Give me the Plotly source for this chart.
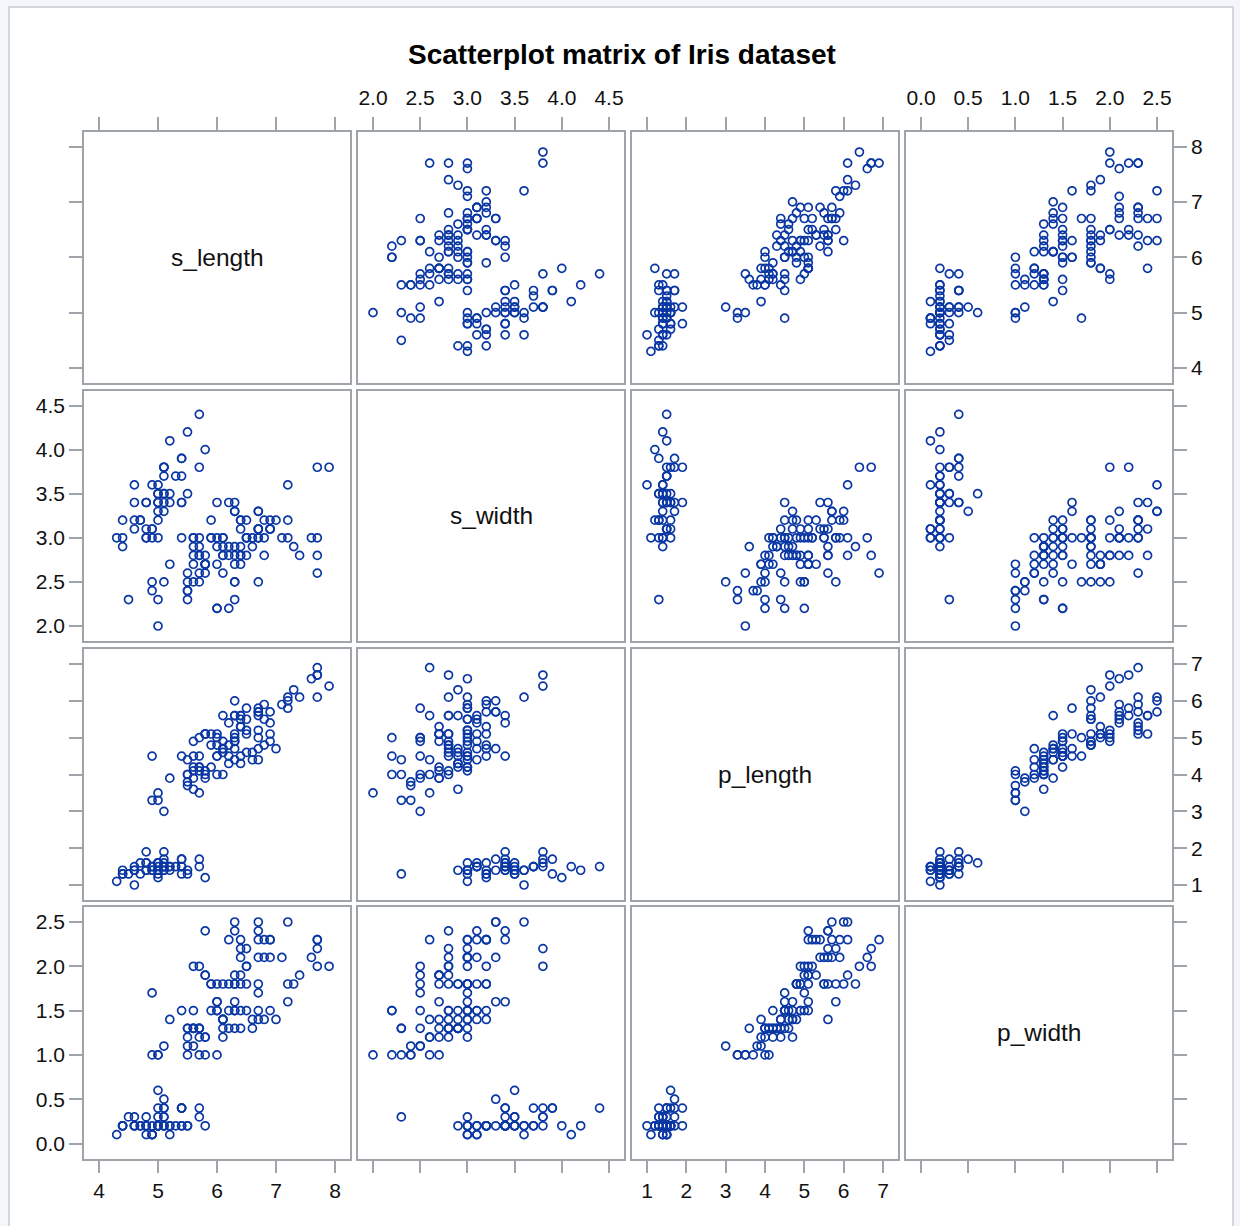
import plotly.graph_objects as go

# Fisher's Iris measurements (cm)
s_length = [5.1,4.9,4.7,4.6,5.0,5.4,4.6,5.0,4.4,4.9,5.4,4.8,4.8,4.3,5.8,5.7,5.4,5.1,5.7,5.1,5.4,5.1,4.6,5.1,4.8,5.0,5.0,5.2,5.2,4.7,4.8,5.4,5.2,5.5,4.9,5.0,5.5,4.9,4.4,5.1,5.0,4.5,4.4,5.0,5.1,4.8,5.1,4.6,5.3,5.0,
            7.0,6.4,6.9,5.5,6.5,5.7,6.3,4.9,6.6,5.2,5.0,5.9,6.0,6.1,5.6,6.7,5.6,5.8,6.2,5.6,5.9,6.1,6.3,6.1,6.4,6.6,6.8,6.7,6.0,5.7,5.5,5.5,5.8,6.0,5.4,6.0,6.7,6.3,5.6,5.5,5.5,6.1,5.8,5.0,5.6,5.7,5.7,6.2,5.1,5.7,
            6.3,5.8,7.1,6.3,6.5,7.6,4.9,7.3,6.7,7.2,6.5,6.4,6.8,5.7,5.8,6.4,6.5,7.7,7.7,6.0,6.9,5.6,7.7,6.3,6.7,7.2,6.2,6.1,6.4,7.2,7.4,7.9,6.4,6.3,6.1,7.7,6.3,6.4,6.0,6.9,6.7,6.9,5.8,6.8,6.7,6.7,6.3,6.5,6.2,5.9]
s_width = [3.5,3.0,3.2,3.1,3.6,3.9,3.4,3.4,2.9,3.1,3.7,3.4,3.0,3.0,4.0,4.4,3.9,3.5,3.8,3.8,3.4,3.7,3.6,3.3,3.4,3.0,3.4,3.5,3.4,3.2,3.1,3.4,4.1,4.2,3.1,3.2,3.5,3.6,3.0,3.4,3.5,2.3,3.2,3.5,3.8,3.0,3.8,3.2,3.7,3.3,
           3.2,3.2,3.1,2.3,2.8,2.8,3.3,2.4,2.9,2.7,2.0,3.0,2.2,2.9,2.9,3.1,3.0,2.7,2.2,2.5,3.2,2.8,2.5,2.8,2.9,3.0,2.8,3.0,2.9,2.6,2.4,2.4,2.7,2.7,3.0,3.4,3.1,2.3,3.0,2.5,2.6,3.0,2.6,2.3,2.7,3.0,2.9,2.9,2.5,2.8,
           3.3,2.7,3.0,2.9,3.0,3.0,2.5,2.9,2.5,3.6,3.2,2.7,3.0,2.5,2.8,3.2,3.0,3.8,2.6,2.2,3.2,2.8,2.8,2.7,3.3,3.2,2.8,3.0,2.8,3.0,2.8,3.8,2.8,2.8,2.6,3.0,3.4,3.1,3.0,3.1,3.1,3.1,2.7,3.2,3.3,3.0,2.5,3.0,3.4,3.0]
p_length = [1.4,1.4,1.3,1.5,1.4,1.7,1.4,1.5,1.4,1.5,1.5,1.6,1.4,1.1,1.2,1.5,1.3,1.4,1.7,1.5,1.7,1.5,1.0,1.7,1.9,1.6,1.6,1.5,1.4,1.6,1.6,1.5,1.5,1.4,1.5,1.2,1.3,1.4,1.3,1.5,1.3,1.3,1.3,1.6,1.9,1.4,1.6,1.4,1.5,1.4,
            4.7,4.5,4.9,4.0,4.6,4.5,4.7,3.3,4.6,3.9,3.5,4.2,4.0,4.7,3.6,4.4,4.5,4.1,4.5,3.9,4.8,4.0,4.9,4.7,4.3,4.4,4.8,5.0,4.5,3.5,3.8,3.7,3.9,5.1,4.5,4.5,4.7,4.4,4.1,4.0,4.4,4.6,4.0,3.3,4.2,4.2,4.2,4.3,3.0,4.1,
            6.0,5.1,5.9,5.6,5.8,6.6,4.5,6.3,5.8,6.1,5.1,5.3,5.5,5.0,5.1,5.3,5.5,6.7,6.9,5.0,5.7,4.9,6.7,4.9,5.7,6.0,4.8,4.9,5.6,5.8,6.1,6.4,5.6,5.1,5.6,6.1,5.6,5.5,4.8,5.4,5.6,5.1,5.1,5.9,5.7,5.2,5.0,5.2,5.4,5.1]
p_width = [0.2,0.2,0.2,0.2,0.2,0.4,0.3,0.2,0.2,0.1,0.2,0.2,0.1,0.1,0.2,0.4,0.4,0.3,0.3,0.3,0.2,0.4,0.2,0.5,0.2,0.2,0.4,0.2,0.2,0.2,0.2,0.4,0.1,0.2,0.1,0.2,0.2,0.1,0.2,0.2,0.3,0.3,0.2,0.6,0.4,0.3,0.2,0.2,0.2,0.2,
           1.4,1.5,1.5,1.3,1.5,1.3,1.6,1.0,1.3,1.4,1.0,1.5,1.0,1.4,1.3,1.4,1.5,1.0,1.5,1.1,1.8,1.3,1.5,1.2,1.3,1.4,1.4,1.7,1.5,1.0,1.1,1.0,1.2,1.6,1.5,1.6,1.5,1.3,1.3,1.3,1.2,1.4,1.2,1.0,1.3,1.2,1.3,1.3,1.1,1.3,
           2.5,1.9,2.1,1.8,2.2,2.1,1.7,1.8,1.8,2.5,2.0,1.9,2.1,2.0,2.4,2.3,1.8,2.2,2.3,1.5,2.3,2.0,2.0,1.8,2.1,1.8,1.8,1.8,2.1,1.6,1.9,2.0,2.2,1.5,1.4,2.3,2.4,1.8,1.8,2.1,2.4,2.3,1.9,2.3,2.5,2.3,1.9,2.0,2.3,1.8]

var_names = ["s_length", "s_width", "p_length", "p_width"]
var_data = [s_length, s_width, p_length, p_width]
var_ticks = [[4, 5, 6, 7, 8],
             [2.0, 2.5, 3.0, 3.5, 4.0, 4.5],
             [1, 2, 3, 4, 5, 6, 7],
             [0.0, 0.5, 1.0, 1.5, 2.0, 2.5]]
var_fmt = ["d", ".1f", "d", ".1f"]

title_text = "Scatterplot matrix of Iris dataset"

W, H = 1240, 1226
FONT = "Liberation Sans, Arial, sans-serif"
FRAME = "#9fa4aa"
MARK = "#0a37a3"
TICK_FONT = dict(family=FONT, size=21, color="#111111")

# panel edges in pixels
col_px = [(84, 350), (358, 624), (632, 898), (906, 1172)]
row_px = [(131.5, 383), (390.5, 641), (649, 900), (907, 1158.5)]
PAD = 15  # px between panel edge and the outer tick


def padded_range(ticks, span_px):
    lo, hi = ticks[0], ticks[-1]
    unit = (span_px - 2 * PAD) / (hi - lo)
    return [lo - PAD / unit, hi + PAD / unit]


fig = go.Figure()
layout = {}
annotations = []

for r in range(4):
    for c in range(4):
        k = r * 4 + c + 1
        xa = "x" if k == 1 else f"x{k}"
        ya = "y" if k == 1 else f"y{k}"
        xkey = "xaxis" if k == 1 else f"xaxis{k}"
        ykey = "yaxis" if k == 1 else f"yaxis{k}"

        if r == c:
            fig.add_trace(go.Scatter(x=[], y=[], xaxis=xa, yaxis=ya,
                                     mode="markers", showlegend=False))
        else:
            fig.add_trace(go.Scatter(
                x=var_data[c], y=var_data[r], xaxis=xa, yaxis=ya,
                mode="markers", showlegend=False, hoverinfo="skip",
                marker=dict(symbol="circle-open", size=8, color=MARK,
                            line=dict(width=1.7, color=MARK)),
            ))

        x0, x1 = col_px[c]
        y0, y1 = row_px[r]

        xax = dict(
            domain=[x0 / W, x1 / W], anchor=ya,
            range=padded_range(var_ticks[c], x1 - x0),
            showline=True, mirror=True, linecolor=FRAME, linewidth=1.5,
            showgrid=False, zeroline=False, fixedrange=True,
            tickvals=var_ticks[c], tickformat=var_fmt[c],
            tickcolor=FRAME, tickwidth=1.5, ticklen=13,
            tickfont=TICK_FONT,
        )
        if r == 0:
            xax.update(side="top", ticks="outside", showticklabels=(c % 2 == 1),
                       ticklabelstandoff=3)
        elif r == 3:
            xax.update(side="bottom", ticks="outside", showticklabels=(c % 2 == 0))
        else:
            xax.update(ticks="", showticklabels=False)

        yax = dict(
            domain=[1 - y1 / H, 1 - y0 / H], anchor=xa,
            range=padded_range(var_ticks[r], y1 - y0),
            showline=True, mirror=True, linecolor=FRAME, linewidth=1.5,
            showgrid=False, zeroline=False, fixedrange=True,
            tickvals=var_ticks[r], tickformat=var_fmt[r],
            tickcolor=FRAME, tickwidth=1.5, ticklen=13,
            tickfont=TICK_FONT,
        )
        if c == 0:
            yax.update(side="left", ticks="outside", showticklabels=(r % 2 == 1))
        elif c == 3:
            yax.update(side="right", ticks="outside", showticklabels=(r % 2 == 0))
        else:
            yax.update(ticks="", showticklabels=False)

        layout[xkey] = xax
        layout[ykey] = yax

        if r == c:
            annotations.append(dict(
                text=var_names[r], xref="paper", yref="paper",
                x=(x0 + x1) / 2 / W, y=1 - (y0 + y1) / 2 / H,
                xanchor="center", yanchor="middle", showarrow=False,
                font=dict(family=FONT, size=24.5, color="#111111"),
            ))

annotations.append(dict(
    text=f"<b>{title_text}</b>", xref="paper", yref="paper",
    x=622 / W, y=1 - 54 / H, xanchor="center", yanchor="middle",
    showarrow=False, font=dict(family=FONT, size=28, color="#000000"),
))

fig.update_layout(
    width=W, height=H,
    margin=dict(l=0, r=0, t=0, b=0),
    paper_bgcolor="#f5f6fa", plot_bgcolor="#ffffff",
    annotations=annotations,
    shapes=[dict(type="rect", xref="paper", yref="paper", layer="below",
                 x0=9 / W, x1=1233 / W, y0=-0.01, y1=1 - 7 / H,
                 fillcolor="#ffffff", line=dict(color="#d4d7dd", width=2))],
    **layout,
)

fig.write_html("out.html")
